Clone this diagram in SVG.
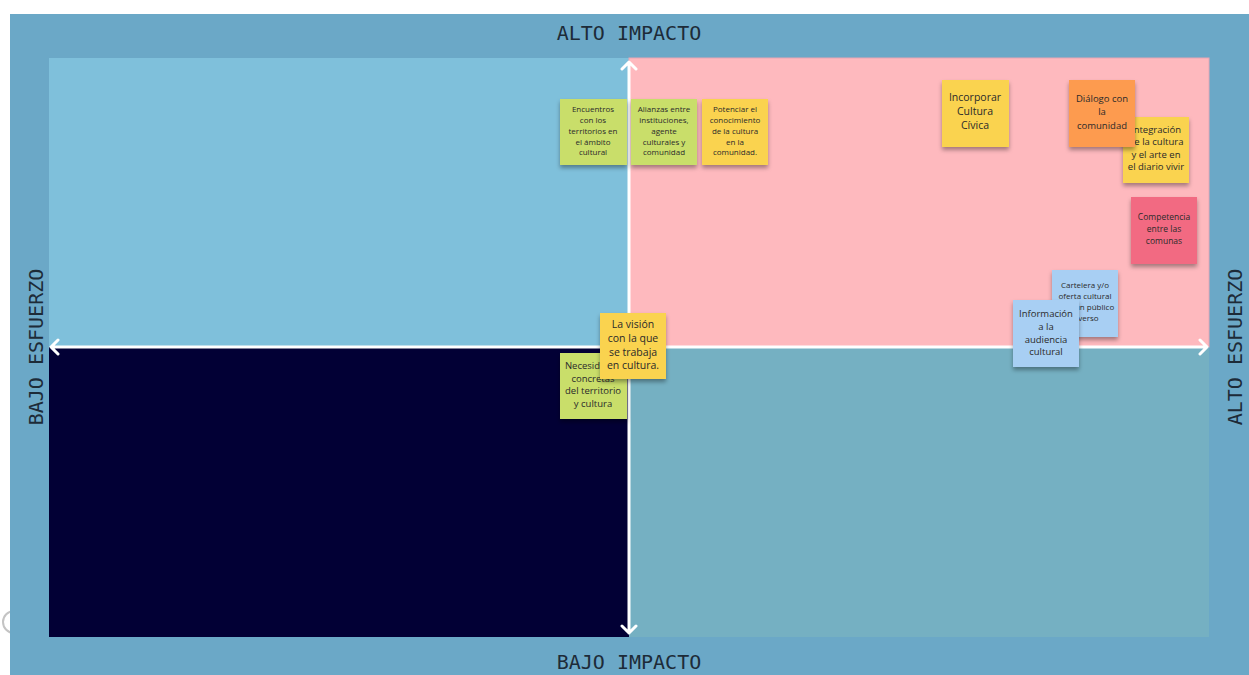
<svg xmlns="http://www.w3.org/2000/svg" width="1249" height="675" viewBox="0 0 1249 675">
<defs>
<filter id="sh" x="-20%" y="-20%" width="140%" height="150%">
<feDropShadow dx="0" dy="3" stdDeviation="2" flood-color="#000" flood-opacity="0.35"/>
</filter>
<style>
.ax{font-family:"DejaVu Sans Mono","Liberation Mono",monospace;font-size:20px;fill:#1d2b38;text-anchor:middle}
.t{font-family:"Open Sans","Noto Sans","Liberation Sans",sans-serif;fill:#2a2a2a;text-anchor:middle}
.s{font-size:8px}
.c{font-size:8.5px}
.m{font-size:9.5px}
.l{font-size:10.5px}
.arr{stroke:#fff;stroke-width:3;fill:none;stroke-linecap:round;stroke-linejoin:round}
.g{fill:#c9de6a}
.y{fill:#fad34f}
.o{fill:#fd9b4f}
.p{fill:#f26b82}
.b{fill:#a8cff3}
</style>
</defs>
<rect width="1249" height="675" fill="#fff"/>
<circle cx="14" cy="622" r="11" fill="none" stroke="#c4c4c4" stroke-width="2"/>
<rect x="10" y="14" width="1239" height="661" fill="#6ba8c7"/>
<rect x="49" y="58" width="580" height="289" fill="#7fc0db"/>
<rect x="629" y="58" width="580" height="289" fill="#feb9be" stroke="#e9a6b4" stroke-width="1"/>
<rect x="49" y="347" width="580" height="290" fill="#020035"/>
<rect x="629" y="347" width="580" height="290" fill="#75b0c2"/>
<text class="ax" x="629" y="40">ALTO IMPACTO</text>
<text class="ax" x="629" y="669">BAJO IMPACTO</text>
<text class="ax" transform="translate(43,347) rotate(-90)">BAJO ESFUERZO</text>
<text class="ax" transform="translate(1242,347) rotate(-90)">ALTO ESFUERZO</text>
<g id="connectors">
<path class="arr" d="M629 62 V633 M622 69 L629 62 L636 69 M622 626 L629 633 L636 626"/>
<path class="arr" d="M51 347 H1207 M58 340 L51 347 L58 354 M1200 340 L1207 347 L1200 354"/>
</g>
<g id="n1"><rect class="g" x="560" y="99" width="67" height="66" filter="url(#sh)"/>
<text class="t s" x="593"><tspan x="593" y="112">Encuentros</tspan><tspan x="593" y="123">con los</tspan><tspan x="593" y="134">territorios en</tspan><tspan x="593" y="145">el ámbito</tspan><tspan x="593" y="155">cultural</tspan></text></g>
<g id="n2"><rect class="g" x="631" y="99" width="66" height="66" filter="url(#sh)"/>
<text class="t s" x="664"><tspan x="664" y="112">Alianzas entre</tspan><tspan x="664" y="123">instituciones,</tspan><tspan x="664" y="134">agente</tspan><tspan x="664" y="145">culturales y</tspan><tspan x="664" y="155">comunidad</tspan></text></g>
<g id="n3"><rect class="y" x="702" y="99" width="66" height="66" filter="url(#sh)"/>
<text class="t s" x="735"><tspan x="735" y="112">Potenciar el</tspan><tspan x="735" y="123">conocimiento</tspan><tspan x="735" y="134">de la cultura</tspan><tspan x="735" y="145">en la</tspan><tspan x="735" y="155">comunidad.</tspan></text></g>
<g id="n4"><rect class="y" x="942" y="80" width="67" height="67" filter="url(#sh)"/>
<text class="t l" x="975"><tspan x="975" y="101">Incorporar</tspan><tspan x="975" y="115">Cultura</tspan><tspan x="975" y="129">Cívica</tspan></text></g>
<g id="n6"><rect class="y" x="1123" y="117" width="66" height="66" filter="url(#sh)"/>
<text class="t m" x="1156"><tspan x="1156" y="133">Integración</tspan><tspan x="1156" y="145">de la cultura</tspan><tspan x="1156" y="158">y el arte en</tspan><tspan x="1156" y="170">el diario vivir</tspan></text></g>
<g id="n5"><rect class="o" x="1069" y="80" width="66" height="67" filter="url(#sh)"/>
<text class="t m" x="1102"><tspan x="1102" y="102">Diálogo con</tspan><tspan x="1102" y="115">la</tspan><tspan x="1102" y="129">comunidad</tspan></text></g>
<g id="n7"><rect class="p" x="1131" y="197" width="66" height="67" filter="url(#sh)"/>
<text class="t c" x="1164"><tspan x="1164" y="220">Competencia</tspan><tspan x="1164" y="232">entre las</tspan><tspan x="1164" y="244">comunas</tspan></text></g>
<g id="n8"><rect class="b" x="1052" y="270" width="66" height="67" filter="url(#sh)"/>
<text class="t s" x="1085"><tspan x="1085" y="288">Cartelera y/o</tspan><tspan x="1085" y="299">oferta cultural</tspan><tspan x="1085" y="310">para un público</tspan><tspan x="1085" y="321">diverso</tspan></text></g>
<g id="n9"><rect class="b" x="1013" y="300" width="66" height="67" filter="url(#sh)"/>
<text class="t m" x="1046"><tspan x="1046" y="317">Información</tspan><tspan x="1046" y="330">a la</tspan><tspan x="1046" y="343">audiencia</tspan><tspan x="1046" y="355">cultural</tspan></text></g>
<g id="n10"><rect class="g" x="560" y="353" width="67" height="66" filter="url(#sh)"/>
<text class="t m" x="593"><tspan x="593" y="369">Necesidades</tspan><tspan x="593" y="382">concretas</tspan><tspan x="593" y="394">del territorio</tspan><tspan x="593" y="407">y cultura</tspan></text></g>
<g id="n11"><rect class="y" x="600" y="313" width="66" height="66" filter="url(#sh)"/>
<text class="t l" x="633"><tspan x="633" y="328">La visión</tspan><tspan x="633" y="342">con la que</tspan><tspan x="633" y="356">se trabaja</tspan><tspan x="633" y="369">en cultura.</tspan></text></g>
</svg>
